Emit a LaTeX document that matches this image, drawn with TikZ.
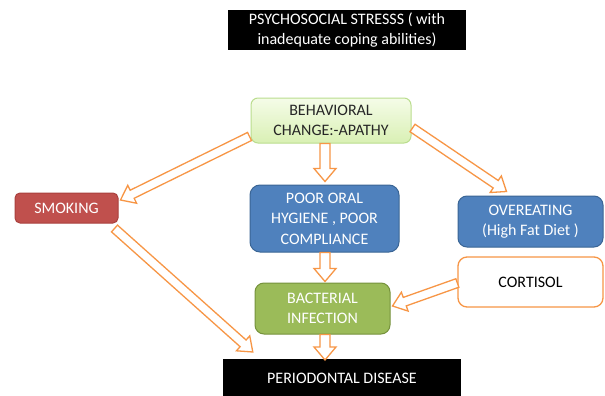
\documentclass[tikz,border=0pt]{standalone}
\usepackage{fontspec}
\setmainfont{Carlito}
\usetikzlibrary{calc}
\definecolor{arrorange}{HTML}{F79646}
\definecolor{smkred}{HTML}{C0504D}
\definecolor{smkredb}{HTML}{A9403D}
\definecolor{boxblue}{HTML}{4F81BD}
\definecolor{boxblueb}{HTML}{3A6595}
\definecolor{bactgreen}{HTML}{9BBB59}
\definecolor{bactgreenb}{HTML}{76923C}
\definecolor{behtop}{HTML}{F5FCE8}
\definecolor{behbot}{HTML}{D9F0B4}
\definecolor{behb}{HTML}{BADD8E}
\definecolor{txtdark}{HTML}{262626}
\tikzset{
  base/.style={rectangle, align=center, inner sep=0pt, font=\fontsize{16}{20.5}\selectfont},
  blackbox/.style={base, fill=black, text=white},
  rbox/.style={base, rounded corners=7pt, line width=1pt},
  harr/.style={draw=arrorange, line width=1.3pt, fill=white, line join=miter}
}
\newcommand\hollowarrow[5]{%
  \path (#1) coordinate (ha-s) (#2) coordinate (ha-t);
  \path ($(ha-t)!#5!(ha-s)$) coordinate (ha-b);
  \draw[harr] ($(ha-s)!#3!90:(ha-t)$) -- ($(ha-b)!#3!90:(ha-t)$) -- ($(ha-b)!#4!90:(ha-t)$)
    -- (ha-t) -- ($(ha-b)!#4!-90:(ha-t)$) -- ($(ha-b)!#3!-90:(ha-t)$)
    -- ($(ha-s)!#3!-90:(ha-t)$) -- cycle;
}
\begin{document}
\begin{tikzpicture}[x=1pt,y=-1pt]
\useasboundingbox (0,0) rectangle (605,396);
\fill[white] (0,0) rectangle (605,396);

\node[blackbox, minimum width=238pt, minimum height=40pt] (top) at (347,30)
  {PSYCHOSOCIAL STRESSS ( with\\inadequate coping abilities)};
\node[rbox, draw=behb, top color=behtop, bottom color=behbot, text=txtdark,
  minimum width=160pt, minimum height=45pt] (beh) at (331,120.5)
  {BEHAVIORAL\\CHANGE:-APATHY};
\node[rbox, draw=smkredb, fill=smkred, text=white,
  minimum width=103pt, minimum height=30pt, rounded corners=5pt] (smk) at (66.5,208)
  {SMOKING};
\node[rbox, draw=boxblueb, fill=boxblue, text=white,
  minimum width=149pt, minimum height=67pt, rounded corners=10pt] (oral) at (324.5,218.5)
  {POOR ORAL\\HYGIENE , POOR\\COMPLIANCE};
\node[rbox, draw=boxblueb, fill=boxblue, text=white,
  minimum width=145pt, minimum height=51pt, rounded corners=9pt] (over) at (530.5,221.5)
  {OVEREATING\\(High Fat Diet )};
\node[rbox, draw=arrorange, fill=white, text=black, line width=1.3pt,
  minimum width=145pt, minimum height=50pt, rounded corners=9pt] (cort) at (530.5,282)
  {CORTISOL};
\node[rbox, draw=bactgreenb, fill=bactgreen, text=white,
  minimum width=135pt, minimum height=51pt, rounded corners=9pt] (bact) at (322.5,308.5)
  {BACTERIAL\\INFECTION};
\node[blackbox, minimum width=238pt, minimum height=40pt, anchor=north] (per) at (342,359) {};
\node[base, text=white] (pertext) at (342,378) {PERIODONTAL DISEASE};

% arrows
\hollowarrow{$(beh.south)+(-6,0)$}{$(oral.north)+(0.5,-3)$}{5pt}{11pt}{13pt}
\hollowarrow{$(oral.south)+(0.5,0)$}{$(bact.north)+(2.5,-1)$}{5pt}{11pt}{13pt}
\hollowarrow{$(bact.south)+(2.5,0)$}{$(per.north)+(-17,1)$}{5pt}{11pt}{13pt}
\hollowarrow{$(beh.west)+(-1,16)$}{$(smk.east)+(2,-8)$}{4.5pt}{10pt}{13pt}
\hollowarrow{$(beh.east)+(1,7.5)$}{$(over.north west)+(49,-4)$}{4.5pt}{10pt}{13pt}
\hollowarrow{$(smk.south east)+(-4,5)$}{$(per.north west)+(30,-7)$}{4.5pt}{10pt}{13pt}
\hollowarrow{$(cort.west)+(0,1)$}{$(bact.east)+(2,-2.5)$}{4.5pt}{10pt}{13pt}
\end{tikzpicture}
\end{document}
